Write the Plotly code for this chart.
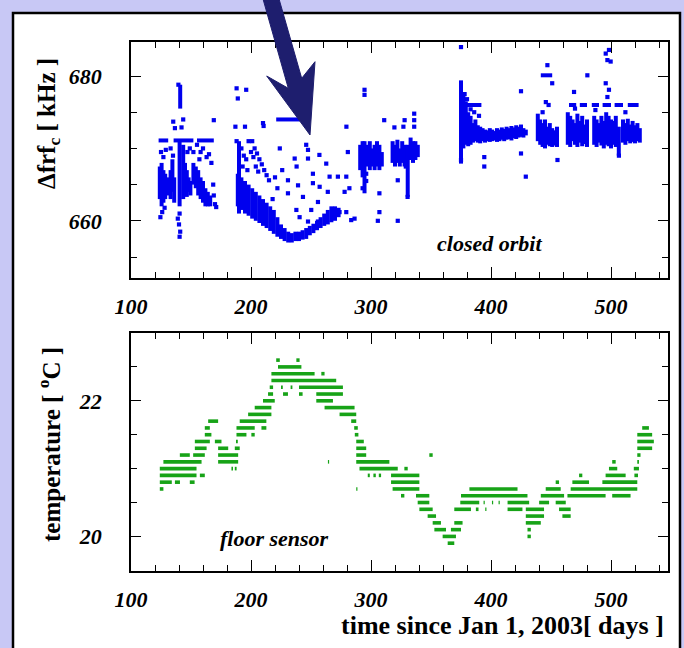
import plotly.graph_objects as go

# ---------------- data: top panel (closed orbit, kHz) ----------------
# isolated points (day, value)
blue_pt_day = [139.5,135.2,142.1,136.6,143.5,169,140.5,140,141,140.5,139,125,127,124.5,126,129,133,135,128,
               147,149,155,158,160,163,165,167,157,152,168.5,170,169,171,
               188,196,189,195,187,188,210.5,210,279.5,
               201,203,205,207,209,211,213,215,202,204,206,
               192,194,196,198,200,197,193,
               224,246,247.5,236.4,247.5,257,238,262.7,280.7,251.6,265.5,272.4,279.4,230.8,239.2,251.6,257.2,264,278,282,
               230.8,243.3,237.8,250.2,255.8,240.5,247.5,255.8,268.3,273.8,279.4,283.5,286.3,220,222,226,218,
               294.6,294.6,311,319.5,328,336,336,336,327,307,307,305.7,322.3,322.3,329,296,296,330.5,293,
               375,425,425,429,394.4,394.4,375,383,386,390,380,378,
               447,451,445.7,448,455.4,443,
               480.3,469.2,495.6,498.3,497,499.7,495.6,498.3,497,506.6,487,512,470]
blue_pt_val = [678.8,673.7,672.9,672.8,674,673.9,661,659.5,658.5,657.8,660.3,669.5,668.8,660.5,661.2,669.8,670,669,661.8,
               669.5,670,670.5,669.5,670,668.8,669.2,668,668.5,669.5,665,662.3,663.5,661.9,
               678.3,678.1,676.9,673,673,671,673.1,673.5,673,
               671,670,669.3,668.5,667.8,667,666.3,665.6,668.8,667.5,666.8,
               670,669,668.5,671,669.5,667,667.5,
               670,670.5,669.8,668.6,668.6,669.1,667.5,667.9,669.5,666.5,666.1,666.1,666.1,665.6,664.9,665.2,664.7,664,664,664.5,
               663.8,663.3,661.5,661.5,662.6,660.5,659.9,659.9,660.5,661.2,661.2,660.1,660.3,666,664.5,667,663,
               678.1,677.4,673.9,672.9,673.9,674.8,673.9,673,673,663.8,661.2,660,660,665.6,667.5,666.5,665.5,663.3,664.5,
               684,677.9,669.3,666.1,668.8,667.5,668.4,675.4,675,674.5,676.8,677.5,
               681.5,679,676.4,676,668.4,675,
               680.1,677.8,683.1,683.6,682.2,682,679,678.1,677.1,669,675.3,675,675.5]

# dense vertical runs (day, low, high)
blue_run_day = [141,140.5,124,125.5,127,128.5,130,131.5,133,134.5,136,143.5,145,146.5,148,149.5,
                152,154,156,158,160,162,164,166,
                190,189,192,195,198,201,204,207,210,213,216,219,222,225,228,231,234,237,240,243,246,249,252,255,258,261,264,267,270,273,
                291,293,294.6,297,299,301,303,305,307,309,318,320,322,324,326,328,330.6,333,335,337,339,
                375,377,379,381,383,385,387,389,391,393,395,397,399,401,403,405,407,409,411,413,415,417,419,421,423,425,427,429,
                439,441,443,445,447,449,451,453,455,
                464,466,468,470,472,474,476,478,480,
                486,488,490,492,494,496,498,500,502,504,506.5,
                510,512,514,516,518,520,522,524]
blue_run_lo = [675.5,662,663,662,662.5,663,663.5,664,663,664,662.5,663,664,663.3,664,663.5,
               665,664.5,663.5,663,662.5,662,662,662,
               661,662,661.5,661,660.7,660.3,660,659.7,659.3,659,658.6,658.2,657.8,657.5,657.2,657,657,657.2,657.2,657.4,657.5,658,658.3,658.7,659,659.3,659.5,659.8,660,660.5,
               667,666,663.8,667.5,667,667.5,667,667.5,667,667.5,668,667.5,668,667.5,668,667.5,663.3,668.4,668,668.4,668.8,
               667.9,670,670.5,670.3,670.5,670.8,671,670.8,670.7,671,670.8,671,670.9,671,671.1,670.9,671,671.2,671,671.2,671.3,671.1,671.4,671.3,671.5,671.6,671.5,671.8,
               671,670.5,670.2,670,670.5,670.3,670.2,670.4,670.2,
               670.5,670.2,671,670.5,670.2,670.8,670.3,670.6,670.2,
               670.5,670.2,670.8,670.4,670,670.5,670.3,670,670.5,670.2,669,
               670.8,670.5,671,670.7,670.9,670.7,671,670.8]
blue_run_hi = [678.8,671,667.5,668,667,666.5,666,665.5,667,668.5,666,670.5,668,667,666,665.5,
               668,667.5,667,666,665.5,664.5,664,663.5,
               671,666.5,666,665.5,665,664.5,664,663.5,663,662.5,662,661.5,660.5,659.5,659,658.5,658.3,658.5,658.5,658.7,659,659.3,659.6,660,660.5,661,661.5,662,662,661.8,
               670.5,671,671,670.5,671,670,670.5,671,670.5,669.5,671,670.5,671.2,670,671,670.5,670.5,671.5,671,671,670.5,
               679.4,677.5,676.5,675,674.5,673.5,674,673.2,673,672.8,672.6,672.5,672.8,672.6,672.4,672.8,672.6,672.9,672.7,673,672.8,673.1,672.9,673.2,673,673.3,672.8,672.6,
               674.8,674,673.5,674,673,673.5,672.8,672.5,673,
               675,674.5,674,673.5,674.8,673.8,674.5,673.3,674,
               674.5,674,673.5,674.5,673.8,675,674.5,674,673.8,674.5,673,
               674,673.5,674.1,673.3,673.8,673.2,673.5,672.8]

# horizontal runs (value, day start, day end)
blue_hrun_val = [671.1,671.1,671.1,674,676,680.1,676,676,676,676,676,676]
blue_hrun_d0 = [123,135.5,155,221,375,441.5,465,474,484,493,503,514]
blue_hrun_d1 = [131,152,169,241,392,451,471,480,490,500,510,523]

# ---------------- data: bottom panel (floor sensor, deg C) ----------------
green_T = [20.7,20.7,20.7,20.7,20.7,20.7,
           20.8,20.8,20.8,20.8,20.8,20.8,20.8,
           20.9,20.9,20.9,20.9,20.9,20.9,20.9,20.9,20.9,
           21.0,21.0,21.0,21.0,21.0,21.0,21.0,
           21.1,21.1,21.1,21.1,21.1,21.1,
           21.2,21.2,21.2,21.2,21.2,21.2,
           21.3,21.3,21.3,21.3,21.3,
           21.4,21.4,21.4,21.4,21.4,
           21.5,21.5,21.5,21.5,21.5,
           21.6,21.6,21.6,21.6,21.6,
           21.7,21.7,21.7,
           21.8,21.8,
           21.9,21.9,
           22.0,22.0,
           22.1,22.1,22.1,22.1,
           22.2,22.2,22.2,22.2,
           22.3,
           22.4,22.4,
           22.5,
           22.6,22.6,
           20.6,20.6,20.6,20.6,20.6,20.6,
           20.5,20.5,20.5,20.5,20.5,20.5,20.5,20.5,
           20.4,20.4,20.4,20.4,20.4,20.4,20.4,
           20.3,20.3,20.3,
           20.2,20.2,20.2,
           20.1,20.1,20.1,
           20.0,20.0,
           19.9]
green_d0 = [124,287.7,318,382,445.6,466.4,
            124,136.6,149,316.7,453.9,467.8,492.8,
            124,157.4,297.3,302,306.5,316.7,473.4,495.5,519.5,
            124,183.7,186.5,290.4,327.8,498.3,519,
            127,172.6,264.1,287.7,501,521.9,
            140.7,151.8,172.6,287.7,348.6,521.9,
            153.2,172.6,186.5,287.7,521.9,
            153.2,169.9,187.5,287.7,521.9,
            161.5,187.9,200.3,286.5,521.9,
            161.5,187.9,208.7,286,526,
            164.3,190.6,283.5,
            197.6,273.8,
            203.1,261.3,
            210,254.4,
            214.2,226.7,240,254.4,
            215.6,225,233,240,
            217,
            217,258.6,
            222.5,
            221,237.8,
            325,337.5,375,441.5,463.7,501,
            338.9,374.4,393.8,400.8,406.3,413.8,440.1,453.9,
            340.3,369.4,387.4,395.2,413.8,429,456.7,
            347.2,429,459.5,
            351.4,369.4,429,
            352.8,366.6,430.4,
            359.7,430.4,
            363.9]
green_d1 = [127,288.7,340.3,422.1,458.1,521.9,
            134,140.8,153,340.3,456.7,481.7,521.9,
            154.6,161.5,299,304,308.4,340.3,476.1,512.2,522.5,
            154.6,185,188,322.3,330.6,505.2,523.3,
            158.8,189.3,265.1,315.3,503.9,523.3,
            149,161.5,189.3,296,351.4,524.6,
            163,181,190.6,296,534.3,
            165.7,175.4,189,294,535.7,
            167,196.2,203.1,289.5,534.3,
            165.7,203.1,212.8,289,531.6,
            172.6,212.8,287.7,
            217,287.7,
            217,286.3,
            219.8,268.3,
            218.4,230.8,243,276.6,
            218.4,226.5,234.5,276.6,
            271,
            253,261.3,
            242,
            224,240.5,
            327.8,348.6,430.4,460.9,495.5,516.3,
            348.6,390.2,394.8,401.8,407.3,431.8,448.4,462.3,
            351.4,383.3,389.6,396.2,426.2,444.2,466.4,
            354.2,444.2,466.4,
            358.3,376.3,441.5,
            362.5,375,433.2,
            370.8,433.2,
            369.4]

# ---------------- helpers (layout) ----------------
W, H = 684, 648
def px(x): return x / W
def py(y): return 1 - y / H

BLUE = "#0000ee"
GREEN = "#17a317"
SERIF = "Times New Roman, Liberation Serif, DejaVu Serif, serif"

fig = go.Figure()

# top: vertical and horizontal runs
rx, ry = [], []
for d, lo, hi in zip(blue_run_day, blue_run_lo, blue_run_hi):
    rx += [d, d, None]; ry += [lo, hi, None]
for v, d0, d1 in zip(blue_hrun_val, blue_hrun_d0, blue_hrun_d1):
    rx += [d0, d1, None]; ry += [v, v, None]
fig.add_trace(go.Scatter(x=rx, y=ry, mode="lines", line=dict(color=BLUE, width=4.0),
                         xaxis="x", yaxis="y", showlegend=False, hoverinfo="skip"))
fig.add_trace(go.Scatter(x=blue_pt_day, y=blue_pt_val, mode="markers",
                         marker=dict(symbol="square", size=4.2, color=BLUE, line=dict(width=0)),
                         xaxis="x", yaxis="y", showlegend=False))

# bottom: green rows
gx, gy = [], []
for t, d0, d1 in zip(green_T, green_d0, green_d1):
    gx += [d0, d1, None]; gy += [t, t, None]
fig.add_trace(go.Scatter(x=gx, y=gy, mode="lines", line=dict(color=GREEN, width=3.6),
                         xaxis="x2", yaxis="y2", showlegend=False))

tickfont = dict(family=SERIF, size=22, color="black", weight="bold", style="italic")
xcommon = dict(range=[100, 547.5], tick0=100, dtick=100, ticks="inside", ticklen=11, tickwidth=1.3,
               tickcolor="black", showline=True, linecolor="black", linewidth=1.5, mirror="allticks",
               showgrid=False, zeroline=False, tickfont=tickfont, ticklabelstandoff=8, automargin=False,
               minor=dict(dtick=20, tick0=100, ticks="inside", ticklen=6, tickwidth=1.2, tickcolor="black", showgrid=False))
ycommon = dict(ticks="inside", ticklen=10, tickwidth=1.3, tickcolor="black", showline=True, linecolor="black",
               linewidth=1.5, mirror="allticks", showgrid=False, zeroline=False, tickfont=tickfont,
               ticklabelstandoff=23, automargin=False)
fig.update_layout(
    width=W, height=H, margin=dict(l=0, r=0, t=0, b=0, pad=0, autoexpand=False),
    paper_bgcolor="#c8c8f5", plot_bgcolor="white",
    xaxis=dict(domain=[px(131), px(668)], anchor="y", **xcommon),
    yaxis=dict(domain=[py(278), py(42)], anchor="x", range=[652.1, 684.7], tick0=660, dtick=20,
               minor=dict(dtick=5, tick0=660, ticks="inside", ticklen=6, tickwidth=1.2, tickcolor="black", showgrid=False),
               **ycommon),
    xaxis2=dict(domain=[px(131), px(668)], anchor="y2", **xcommon),
    yaxis2=dict(domain=[py(571), py(333)], anchor="x2", range=[19.49, 23.0], tick0=20, dtick=2,
                minor=dict(dtick=0.5, tick0=20, ticks="inside", ticklen=6, tickwidth=1.2, tickcolor="black", showgrid=False),
                **ycommon),
)

# white panel with black frame
fig.add_shape(type="rect", xref="paper", yref="paper", x0=px(13), x1=px(680), y0=py(670), y1=py(13),
              fillcolor="white", line=dict(color="black", width=2.5), layer="below")

# arrow
pts = [(261.9, -5), (288.3, 88.3), (266.7, 76), (310, 135), (315, 61.7), (301.7, 78.3), (277.9, -5)]
path = "M " + " L ".join(f"{px(a):.5f},{py(b):.5f}" for a, b in pts) + " Z"
fig.add_shape(type="path", xref="paper", yref="paper", path=path, fillcolor="#1e1e6e",
              line=dict(color="#1e1e6e", width=1), layer="above")

titlefont = dict(family=SERIF, size=25, color="black", weight="bold")
fig.add_annotation(xref="paper", yref="paper", x=px(49), y=py(124), text="Δfrf<sub>c</sub> [ kHz ]",
                   textangle=-90, showarrow=False, font=titlefont, xanchor="center", yanchor="middle")
fig.add_annotation(xref="paper", yref="paper", x=px(49), y=py(445), text="temperature [ <sup>o</sup>C ]",
                   textangle=-90, showarrow=False, font=titlefont, xanchor="center", yanchor="middle")
fig.add_annotation(xref="paper", yref="paper", x=px(666), y=py(625), text="time since Jan 1, 2003[ days ]",
                   showarrow=False, font=dict(family=SERIF, size=26, color="black", weight="bold"),
                   xanchor="right", yanchor="middle")
labfont = dict(family=SERIF, size=22, color="black", weight="bold", style="italic")
fig.add_annotation(xref="paper", yref="paper", x=px(489), y=py(243), text="closed orbit",
                   showarrow=False, font=labfont, xanchor="center", yanchor="middle")
fig.add_annotation(xref="paper", yref="paper", x=px(274), y=py(538), text="floor sensor",
                   showarrow=False, font=labfont, xanchor="center", yanchor="middle")

fig.write_html("out.html", config={"displayModeBar": False},
               post_script="document.body.style.margin='0';document.body.style.padding='0';"
                           "document.body.style.background='#c8c8f5';")
